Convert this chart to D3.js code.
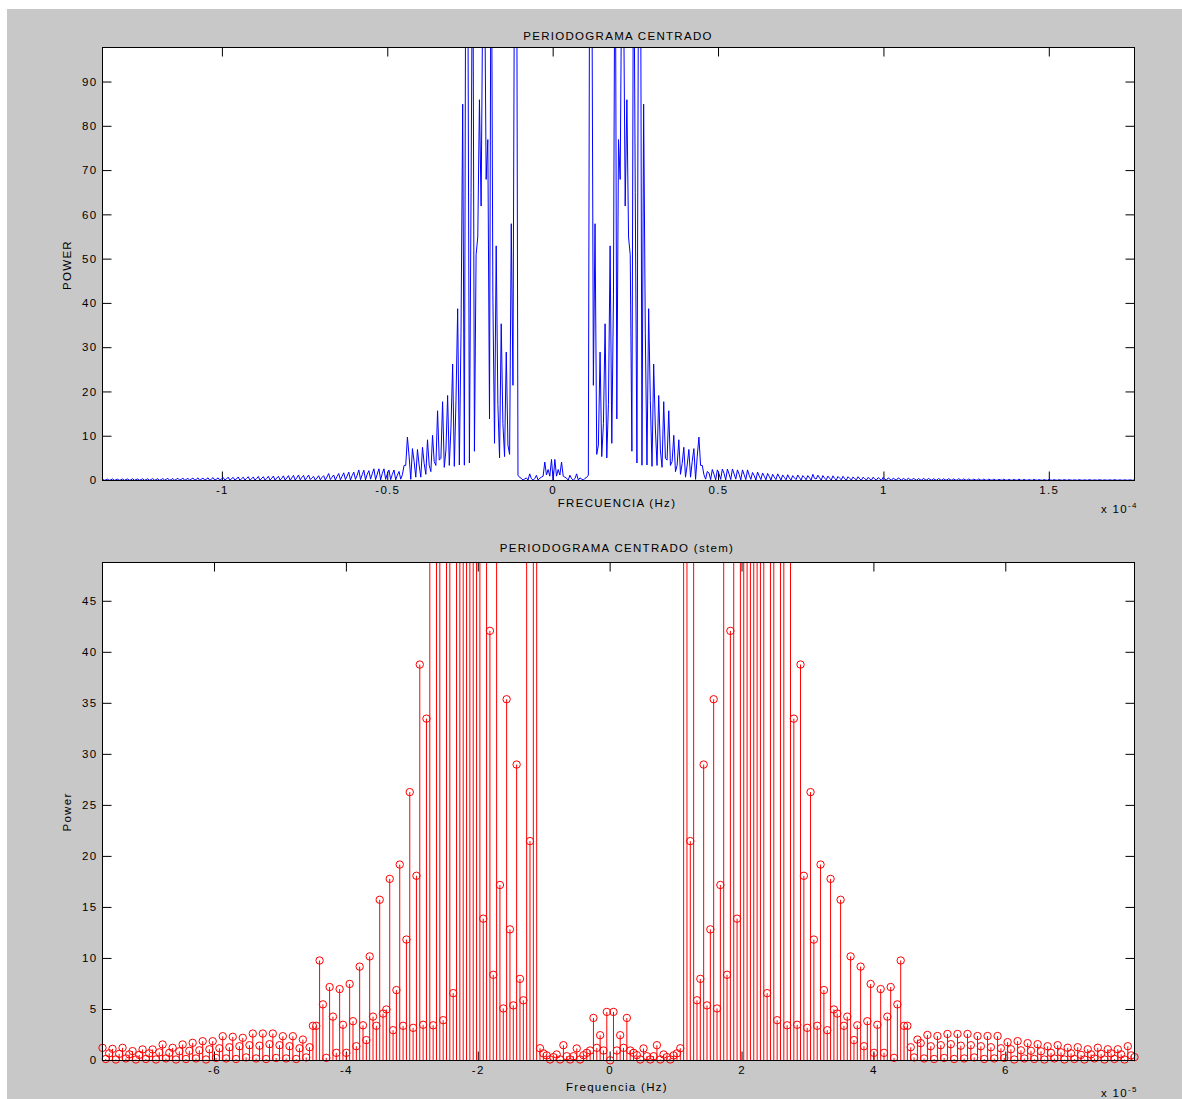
<!DOCTYPE html>
<html>
<head>
<meta charset="utf-8">
<script src="https://cdn.jsdelivr.net/npm/d3@7"></script>
<style>
  body { margin: 0; background: #ffffff; }
  svg { display: block; }
  text { font-family: "Liberation Sans", Arial, sans-serif; }
</style>
</head>
<body>
<svg id="fig" width="1182" height="1099"></svg>
<script>
// ---------------------------------------------------------------
// Centred periodogram: power per frequency bin, bin k at f = k*df
// ---------------------------------------------------------------
const df = 5.065e-7; // frequency resolution (Hz)

// bins -269 .. -153 (far negative tail, only in the full view)
const tailNegStart = -269;
const tailNeg = [
  0.3,0.05,0.15, 0.3,0.05,0.15, 0.35,0.05,0.15, 0.3,0.05,0.15, 0.35,0.05,0.2,
  0.35,0.05,0.15, 0.4,0.05,0.2, 0.35,0.05,0.2, 0.4,0.05,0.2, 0.4,0.05,0.2,
  0.45,0.05,0.2, 0.4,0.05,0.2, 0.45,0.1,0.25, 0.5,0.05,0.2, 0.45,0.05,0.25,
  0.5,0.1,0.25, 0.55,0.05,0.25, 0.5,0.05,0.3, 0.55,0.1,0.25, 0.6,0.05,0.3,
  0.55,0.1,0.3, 0.6,0.05,0.3, 0.65,0.1,0.3, 0.6,0.05,0.35, 0.7,0.1,0.35,
  0.75,0.05,0.4, 0.7,0.1,0.35, 0.8,0.05,0.4, 0.75,0.1,0.45, 0.85,0.05,0.4,
  0.8,0.1,0.45, 0.9,0.05,0.5, 0.85,0.1,0.45, 0.95,0.1,0.5, 1.0,0.05,0.55,
  0.95,0.1,0.5, 1.05,0.1,0.55, 1.1,0.05,0.6, 1.15,0.1,0.6
];

// bins -152 .. -1
const bandNegStart = -152;
const bandNeg = [
  1.24,0.15,0.7, 1.14,0.1,0.65, 1.24,0.2,0.6, 0.92,0.1,0.55, 1.08,0.15,0.7,
  1.08,0.1,0.8, 1.57,0.2,0.75, 1.24,0.1,0.9, 1.57,0.15,0.95, 1.73,0.2,1.0,
  1.89,0.1,1.1, 1.89,0.25,1.2, 2.38,0.2,1.3, 2.32,0.15,1.4, 2.22,0.3,1.5,
  2.64,0.2,1.45, 2.64,0.15,1.6, 2.64,0.25,1.5, 2.38,0.2,1.4, 2.38,0.15,1.2,
  2.05, 0.3, 1.3, 3.4, 3.4, 9.8, 5.5, 0.26, 7.2, 4.3,
  0.75, 7.0, 3.5, 0.75, 7.5, 3.85, 1.4, 9.2, 3.45, 2.0,
  10.2, 4.3, 3.4, 15.75, 4.6, 5.0, 17.8, 2.97, 6.9, 19.2,
  3.4, 11.85, 26.3, 3.2, 18.1, 38.8, 3.5, 33.5, 85, 3.45,
  150, 125, 3.95, 65, 135, 6.6, 51, 55, 86, 62,
  112, 120, 68, 77, 13.9, 140, 42.1, 8.4, 53, 17.2,
  5.1, 35.4, 12.85, 5.4, 29.0, 8.0, 5.9, 58, 21.5, 130,
  160, 1.2, 0.7, 0.5, 0.1, 0.33, 0.59, 0.1, 1.5, 0.42,
  0.1, 0.42, 1.18, 0.1, 0.52, 0.75, 0.98, 4.17, 1.24, 2.48,
  0.98, 4.76
];

// bins 0 .. 157
const bandPosStart = 0;
const bandPos = [
  0.02, 4.76, 0.98, 2.48, 1.24, 4.17, 0.98, 0.75, 0.52, 0.1,
  1.18, 0.42, 0.1, 0.42, 1.5, 0.1, 0.59, 0.33, 0.1, 0.5,
  0.7, 1.2, 160, 130, 21.5, 58, 5.9, 8.0, 29.0, 5.4,
  12.85, 35.4, 5.1, 17.2, 53, 8.4, 42.1, 140, 13.9, 77,
  68, 120, 112, 62, 86, 55, 51, 6.6, 135, 65,
  3.95, 125, 150, 3.45, 85, 33.5, 3.5, 38.8, 18.1, 3.2,
  26.3, 11.85, 3.4, 19.2, 6.9, 2.97, 17.8, 5.0, 4.6, 15.75,
  3.4, 4.3, 10.2, 2.0, 3.45, 9.2, 1.4, 3.85, 7.5, 0.75,
  3.5, 7.0, 0.75, 4.3, 7.2, 0.26, 5.5, 9.8, 3.4, 3.4,
  1.3, 0.3, 2.05, 1.7, 0.2,
  2.5,1.4,0.15, 2.4,1.5,0.25, 2.6,1.6,0.15, 2.6,1.45,0.2, 2.6,1.5,0.3,
  2.4,1.4,0.15, 2.4,1.3,0.2, 2.4,1.2,0.25, 1.8,1.1,0.1, 1.9,1.0,0.2,
  1.7,0.95,0.15, 1.6,0.9,0.1, 1.4,0.75,0.2, 1.5,0.8,0.1, 1.25,0.7,0.15,
  1.3,0.55,0.1, 1.1,0.6,0.2, 1.25,0.65,0.1, 1.1,0.7,0.15, 1.1,0.6,0.1,
  1.4,0.5,0.33
];

// bins 158 .. 347 (far positive tail, only in the full view)
const tailPosStart = 158;
const tailPos = [
  1.2,0.6,0.1, 1.1,0.55,0.15, 1.0,0.5,0.1, 1.05,0.45,0.1, 0.9,0.5,0.15,
  0.95,0.4,0.1, 0.85,0.45,0.1, 0.8,0.4,0.15, 0.85,0.35,0.1, 0.75,0.4,0.1,
  0.7,0.35,0.1, 0.75,0.3,0.1, 0.65,0.35,0.05, 0.7,0.3,0.1, 0.6,0.3,0.05,
  0.55,0.25,0.1, 0.6,0.3,0.05, 0.5,0.25,0.05, 0.55,0.2,0.1, 0.5,0.25,0.05,
  0.45,0.2,0.05, 0.5,0.2,0.1, 0.45,0.25,0.05, 0.4,0.2,0.05, 0.45,0.2,0.05,
  0.4,0.15,0.1, 0.4,0.2,0.05, 0.35,0.15,0.05, 0.4,0.2,0.05, 0.35,0.15,0.05,
  0.35,0.15,0.05, 0.3,0.15,0.05, 0.35,0.15,0.05, 0.3,0.1,0.05, 0.3,0.15,0.05,
  0.3,0.1,0.05, 0.25,0.15,0.05, 0.3,0.1,0.05, 0.25,0.1,0.05, 0.25,0.1,0.05,
  0.3,0.1,0.05, 0.25,0.1,0.05, 0.2,0.1,0.05, 0.25,0.1,0.05, 0.2,0.1,0.05,
  0.2,0.1,0.05, 0.25,0.1,0.05, 0.2,0.1,0.05, 0.2,0.1,0.05, 0.2,0.1,0.05,
  0.2,0.1,0.05, 0.15,0.1,0.05, 0.2,0.1,0.05, 0.15,0.1,0.05, 0.2,0.1,0.05,
  0.15,0.1,0.05, 0.2,0.1,0.05, 0.15,0.1,0.05, 0.15,0.1,0.05, 0.2,0.1,0.05,
  0.15,0.1,0.05, 0.15,0.1,0.05, 0.15,0.1,0.05,
  0.15
];

// bins shown as stems in the zoomed view
const stemFirstBin = -152;
const stemLastBin = 157;

// axis limits and tick labels
const topYMax = 97.8;
const botYMax = 48.8;
const topXTickValues = [-1e-4, -0.5e-4, 0, 0.5e-4, 1e-4, 1.5e-4];
const topXTickLabels = ["-1", "-0.5", "0", "0.5", "1", "1.5"];
const topYTicks = [0, 10, 20, 30, 40, 50, 60, 70, 80, 90];
const botXTickValues = [-6e-5, -4e-5, -2e-5, 0, 2e-5, 4e-5, 6e-5];
const botXTickLabels = ["-6", "-4", "-2", "0", "2", "4", "6"];
const botYTicks = [0, 5, 10, 15, 20, 25, 30, 35, 40, 45];

// ---------------------------------------------------------------
const segments = [
  [tailNegStart, tailNeg], [bandNegStart, bandNeg],
  [bandPosStart, bandPos], [tailPosStart, tailPos]
];
const spectrum = segments.flatMap(([start, vals]) =>
  vals.map((p, i) => ({ bin: start + i, f: (start + i) * df, p })));
const stems = spectrum.filter(d => d.bin >= stemFirstBin && d.bin <= stemLastBin);

const svg = d3.select("#fig");
const W = 1182, H = 1099;
const FONT = 11.5, SPACING = 1.3;

// figure background
svg.append("rect").attr("x", 7).attr("y", 9)
  .attr("width", W - 7).attr("height", H - 9).attr("fill", "#c8c8c8");

const L = 102.5, R = 1134.5;

function frame(box, x, y, xVals, xLabels, yVals, id) {
  const g = svg.append("g");
  g.append("rect").attr("x", L).attr("y", box.top)
    .attr("width", R - L).attr("height", box.bottom - box.top)
    .attr("fill", "#ffffff");

  const styleAxis = sel => {
    sel.select(".domain").remove();
    sel.attr("font-size", null).attr("font-family", null);
    sel.selectAll(".tick line").attr("stroke", "#000");
    sel.selectAll(".tick text").attr("fill", "#000")
      .style("font-size", FONT + "px").style("letter-spacing", SPACING + "px");
  };

  g.append("g").attr("transform", `translate(0,${box.bottom})`)
    .call(d3.axisBottom(x).tickValues(xVals).tickFormat((d, i) => xLabels[i])
      .tickSizeInner(-9).tickSizeOuter(0).tickPadding(5).offset(0))
    .call(styleAxis);
  g.append("g").attr("transform", `translate(0,${box.top})`)
    .call(d3.axisTop(x).tickValues(xVals).tickFormat(() => "")
      .tickSizeInner(-9).tickSizeOuter(0).offset(0))
    .call(styleAxis);
  g.append("g").attr("transform", `translate(${L},0)`)
    .call(d3.axisLeft(y).tickValues(yVals).tickFormat(d3.format("d"))
      .tickSizeInner(-9).tickSizeOuter(0).tickPadding(5).offset(0))
    .call(styleAxis);
  g.append("g").attr("transform", `translate(${R},0)`)
    .call(d3.axisRight(y).tickValues(yVals).tickFormat(() => "")
      .tickSizeInner(-9).tickSizeOuter(0).offset(0))
    .call(styleAxis);

  svg.append("clipPath").attr("id", id)
    .append("rect").attr("x", L).attr("y", box.top)
    .attr("width", R - L).attr("height", box.bottom - box.top);
  return g;
}

function label(txt, x, y, opts = {}) {
  const t = svg.append("text").attr("x", x).attr("y", y)
    .attr("text-anchor", opts.anchor || "middle")
    .style("font-size", FONT + "px").style("letter-spacing", SPACING + "px")
    .attr("fill", "#000").text(txt);
  if (opts.rotate) t.attr("transform", `rotate(-90,${x},${y})`);
  return t;
}

function exponent(base, exp, x, y) {
  const t = svg.append("text").attr("x", x).attr("y", y)
    .style("font-size", FONT + "px").style("letter-spacing", SPACING + "px")
    .attr("fill", "#000");
  t.append("tspan").text(base);
  t.append("tspan").attr("dy", -5).style("font-size", "8px").text(exp);
}

// ---------------- full-range periodogram (line) ----------------
const topBox = { top: 47.5, bottom: 480.5 };
const xTop = d3.scaleLinear().domain(d3.extent(spectrum, d => d.f)).range([L, R]);
const yTop = d3.scaleLinear().domain([0, topYMax]).range([topBox.bottom, topBox.top]);
const gTop = frame(topBox, xTop, yTop, topXTickValues, topXTickLabels, topYTicks, "clipTop");

gTop.append("path").datum(spectrum)
  .attr("clip-path", "url(#clipTop)")
  .attr("fill", "none").attr("stroke", "#0000ff").attr("stroke-width", 1)
  .attr("d", d3.line().x(d => xTop(d.f)).y(d => yTop(d.p)));

gTop.append("rect").attr("x", L).attr("y", topBox.top)
  .attr("width", R - L).attr("height", topBox.bottom - topBox.top)
  .attr("fill", "none").attr("stroke", "#000").attr("stroke-width", 1);

label("PERIODOGRAMA CENTRADO", 618, 40);
label("FRECUENCIA (Hz)", 617, 507);
label("POWER", 71, 265, { rotate: true });
exponent("x 10", "-4", 1101, 513);

// ---------------- zoomed periodogram (stem) ----------------
const botBox = { top: 562.5, bottom: 1060.5 };
const xBot = d3.scaleLinear().domain(d3.extent(stems, d => d.f)).range([L, R]);
const yBot = d3.scaleLinear().domain([0, botYMax]).range([botBox.bottom, botBox.top]);
const gBot = frame(botBox, xBot, yBot, botXTickValues, botXTickLabels, botYTicks, "clipBot");

const stemG = gBot.append("g");
stemG.selectAll("line.stem").data(stems).join("line")
  .attr("class", "stem")
  .attr("x1", d => xBot(d.f)).attr("x2", d => xBot(d.f))
  .attr("y1", yBot(0)).attr("y2", d => yBot(Math.min(d.p, botYMax)))
  .attr("stroke", "#ff0000").attr("stroke-width", 1);
stemG.selectAll("circle.head").data(stems.filter(d => d.p <= botYMax)).join("circle")
  .attr("class", "head")
  .attr("cx", d => xBot(d.f)).attr("cy", d => yBot(d.p)).attr("r", 3.7)
  .attr("fill", "none").attr("stroke", "#ff0000").attr("stroke-width", 1);

gBot.append("rect").attr("x", L).attr("y", botBox.top)
  .attr("width", R - L).attr("height", botBox.bottom - botBox.top)
  .attr("fill", "none").attr("stroke", "#000").attr("stroke-width", 1);

label("PERIODOGRAMA CENTRADO (stem)", 617, 552);
label("Frequencia (Hz)", 617, 1091);
label("Power", 71, 812, { rotate: true });
exponent("x 10", "-5", 1101, 1097);
</script>
</body>
</html>
